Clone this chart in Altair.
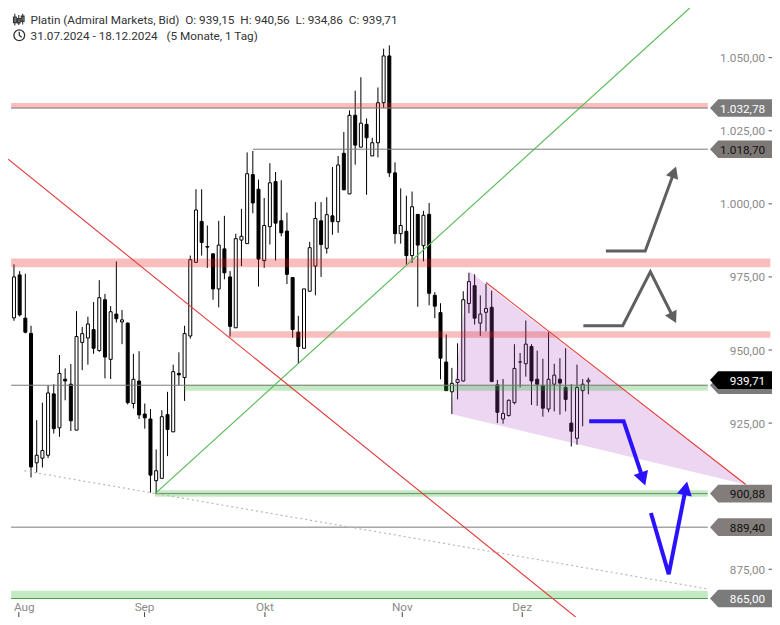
import math
import altair as alt
import pandas as pd

# ---------------- data ----------------
opens = [961, 975.7, 960.9, 955.7, 911.4, 913, 914, 935, 923.4, 940,
         938.3, 922.6, 952.6, 954.1, 957, 949.8, 967.2, 946.8, 962.3, 959.6,
         959.2, 931.7, 939.4, 928.1, 926.4, 905.3, 906.1, 927.9, 922, 942,
         940.6, 954.8, 980, 994, 985.4, 982.9, 970.9, 984.6, 975, 957.6,
         987.6, 986.4, 1010, 1005, 980.6, 992.2, 1007.6, 994.2, 990.7, 974.8,
         956.1, 950.6, 970.1, 978.7, 994.2, 984.8, 995.9, 993.9, 1017.3, 1003.4,
         1030.3, 1019.4, 1027.2, 1016.4, 1020.9, 1034.6, 1050.6, 1010.6, 989.8, 990.6,
         982.3, 996.4, 985.7, 996.4, 968.7, 962.8, 945.9, 935.7, 938.9, 939.4,
         965.9, 972, 959.2, 962.9, 964.6, 938.1, 926.4, 927.6, 932, 945.9,
         945.3, 951.2, 940, 937.9, 929.8, 938.3, 940, 937.2, 925, 919.8,
         936.1, 939.15]
highs = [979.3, 977, 976.1, 958.3, 926, 932, 937.9, 938.3, 948.3, 943.7,
         945.2, 963.3, 957.9, 961.4, 966.4, 973.9, 969.2, 965, 980.3, 963.7,
         959.4, 948.7, 949.6, 931.7, 929.8, 916, 929.4, 935.7, 945, 949.2,
         958.3, 982.3, 1005, 1005, 992.6, 983.1, 994.2, 995.9, 977, 989.8,
         998.3, 1017.6, 1018.1, 1008.3, 1002, 1013.9, 1010.9, 1008.1, 997, 974.8,
         961.7, 970.9, 987, 1000.6, 1000.6, 1002.3, 1012.6, 1016.4, 1024.6, 1032,
         1038.7, 1043.3, 1029.2, 1022.6, 1039.8, 1053.1, 1054.2, 1014.2, 1005.3, 1002.8,
         1004.2, 996.4, 997.6, 1000.3, 969.8, 966, 955.3, 943.9, 952.3, 970.1,
         976.4, 975.9, 968.7, 972.6, 970.3, 939.8, 940.1, 933.1, 952, 949,
         960.1, 952, 949.8, 947, 956.1, 945.3, 947.2, 950.6, 938.3, 945,
         940.1, 940.56]
lows = [960, 961.5, 955.7, 906.4, 908.1, 909.8, 913, 921.4, 920.3, 932.8,
        922.3, 922.6, 943.1, 945, 948.7, 949.4, 940.3, 940.1, 959.4, 952,
        931.4, 930, 926.4, 923.1, 901.2, 900.88, 906.1, 913.7, 922, 937.9,
        932.6, 953.9, 979.8, 982.3, 978.1, 967.2, 964.6, 974.2, 954.6, 957.6,
        978.7, 986.4, 996.8, 971.7, 978.1, 986.1, 980.6, 988.9, 972.6, 954.2,
        945.3, 950.6, 970.1, 968.7, 975, 983, 989.4, 990.1, 1004.8, 1003.4,
        1013.4, 1019.4, 1003.1, 1016.4, 1015.9, 1032.8, 1009.2, 986.4, 986.4, 979.2,
        979.8, 964.8, 980.3, 965.3, 960.9, 940, 936.1, 928.1, 933.1, 939.2,
        962.6, 958.7, 954.8, 956.4, 939.2, 925, 924.8, 927.2, 931.4, 937.2,
        940.9, 931.2, 930.9, 927.2, 928.7, 929, 927.9, 929, 917, 917.6,
        923.9, 934.86]
closes = [975, 962, 956.1, 910, 914, 915.6, 935.3, 923.1, 942, 939.4,
          925.8, 954.6, 955.6, 958.9, 950.6, 967.9, 947.6, 963.1, 960.7, 960.3,
          932, 940, 927.8, 926.8, 907.2, 908.7, 927.2, 922.8, 942.6, 941.5,
          955.6, 980.9, 997.9, 986.8, 985.2, 970.9, 985.9, 976.4, 958.1, 988.1,
          988.9, 1010.3, 1000.3, 981.1, 992.6, 1007.2, 993.4, 990.1, 975.9, 957,
          951.2, 970.9, 985, 995, 986.1, 996.3, 993.9, 1013.3, 1004.8, 1030.3,
          1020.1, 1027.6, 1022.6, 1020.9, 1034.6, 1050.6, 1010.6, 989.8, 992.6, 982.3,
          999, 985.9, 996.1, 969.4, 965, 947.2, 936.1, 938.6, 939.9, 967.2,
          973.4, 960.9, 962.3, 964.2, 939.2, 928.7, 928.3, 932.8, 943.7, 945.9,
          952, 939.4, 938.3, 930.1, 940, 941.4, 938.7, 933.1, 922.2, 937.2,
          938.3, 939.71]

month_pos = [0.85, 22.96, 44.13, 68.28, 89.37]
month_names = ["Aug", "Sep", "Okt", "Nov", "Dez"]
# 900,00 is hidden behind the 900,88 marker in the reference
price_ticks = [875, 925, 950, 975, 1000, 1025, 1050]

# zones (index start/end, value low/high)
pink_x0 = [-0.5, -0.5, 37.79]
pink_x1 = [122.0, 133.0, 133.0]
pink_lo = [1032.67, 978.33, 954.2]
pink_hi = [1034.5, 981.33, 956.4]

green_x0 = [29.87, 24.77, -0.5]
green_x1 = [122.0, 122.0, 122.0]
green_lo = [936.1, 899.8, 865.0]
green_hi = [938.1, 902.0, 867.67]

level_v = [1032.78, 1018.70, 937.95, 900.88, 889.40, 865.0]
level_x0 = [-0.5, 41.99, -0.5, 24.77, -0.5, -0.5]
level_x1 = [122.0, 122.0, 122.0, 122.0, 122.0, 122.0]
level_col = ["#7a7a7a", "#7a7a7a", "#7a7a7a", "#6a8f6a", "#7a7a7a", "#4f9a4f"]

lab_v = [1032.78, 1018.70, 937.95, 939.71, 900.88, 889.40, 865.00]
lab_text = ["1.032,78", "1.018,70", "", "939,71", "900,88", "889,40", "865,00"]
lab_fill = ["#7b7b7b", "#7e7976", "#7b7b7b", "#000000", "#827d7a", "#827d7a", "#7b7b7b"]
lab_tcol = ["#ffffff", "#111111", "#ffffff", "#ffffff", "#111111", "#111111", "#ffffff"]

# trend lines (index, value)
green_tl_i = [24.82, 118.82]
green_tl_v = [900.88, 1067.0]
red1_i = [-1.02, 101.8]
red1_v = [1015.27, 853.9]
red2_i = [83.0, 128.68]
red2_v = [973.1, 904.0]
dot_i = [1.82, 122.2]
dot_v = [908.67, 868.2]
tri_i = [76.88, 80.01, 128.68]   # C, A, B
tri_v = [928.1, 977.0, 904.0]

gray_arrows = [
    ([104.08, 111.0, 116.43], [983.9, 983.9, 1012.77]),
    ([100.12, 107.04, 111.9, 116.43], [958.33, 958.33, 976.77, 959.23]),
]
blue_arrows = [
    ([101.14, 107.2, 111.0], [925.67, 925.67, 903.67]),
    ([112.0, 115.13, 118.36], [894.23, 873.33, 905.0]),
]

header1 = "Platin (Admiral Markets, Bid)\u00a0\u00a0O: 939,15\u00a0\u00a0H: 940,56\u00a0\u00a0L: 934,86\u00a0\u00a0C: 939,71"
header2 = "31.07.2024 - 18.12.2024\u00a0\u00a0\u00a0(5 Monate, 1 Tag)"

# ---------------- layout ----------------
W, H = 764, 609
SX, SY = W / 780, H / 625
X0, X1 = -0.170, 132.41
V_BOT, V_TOP = 858.667, 1067.0
FONT = "Roboto"

xs = alt.Scale(domain=[X0, X1], nice=False, zero=False)
ys = alt.Scale(domain=[V_BOT, V_TOP], nice=False, zero=False)


def to_px(i, v):
    return ((i - X0) / (X1 - X0) * W, (V_TOP - v) / (V_TOP - V_BOT) * H)


def to_data(px, py):
    return (X0 + px / W * (X1 - X0), V_TOP - py / H * (V_TOP - V_BOT))


def X(field):
    return alt.X(field, scale=xs, axis=None)


def Y(field):
    return alt.Y(field, scale=ys, axis=None)


def de_num(v):
    s = f"{v:,.2f}"
    return s.replace(",", "X").replace(".", ",").replace("X", ".")


n = len(opens)
df = pd.DataFrame({"i": list(range(n)), "o": opens, "h": highs, "l": lows, "c": closes})
df["top"] = df[["o", "c"]].max(axis=1)
df["bot"] = df[["o", "c"]].min(axis=1)
df["bf"] = ["#ffffff" if c >= o else "#000000" for o, c in zip(opens, closes)]

wicks = alt.Chart(df).mark_rule(color="black", strokeWidth=1).encode(
    x=X("i:Q"), y=Y("l:Q"), y2="h:Q")
bodies = alt.Chart(df).mark_bar(size=3, stroke="black", strokeWidth=1).encode(
    x=X("i:Q"), y=Y("top:Q"), y2="bot:Q", fill=alt.Fill("bf:N", scale=None))

# y-axis labels and ticks (right side)
yt_df = pd.DataFrame({"v": price_ticks, "t": [de_num(v) for v in price_ticks]})
y_labels = alt.Chart(yt_df).mark_text(align="right", baseline="middle", font=FONT,
                                      fontSize=12 * SX, color="#8a8a8a", dy=0.5).encode(
    x=alt.value(773 * SX), y=Y("v:Q"), text="t:N")
y_ticks = alt.Chart(yt_df).mark_rule(color="#555555", strokeWidth=1).encode(
    x=alt.value(776.5 * SX), x2=alt.value(W), y=Y("v:Q"))

# x-axis month labels and ticks (bottom)
mt_df = pd.DataFrame({"p": month_pos, "t": month_names})
m_first = alt.Chart(mt_df.iloc[:1]).mark_text(align="left", baseline="alphabetic", font=FONT,
                                              fontSize=12 * SX, color="#8a8a8a", dx=-5 * SX).encode(
    x=X("p:Q"), y=alt.value(619 * SY), text="t:N")
m_rest = alt.Chart(mt_df.iloc[1:]).mark_text(align="center", baseline="alphabetic", font=FONT,
                                             fontSize=12 * SX, color="#8a8a8a").encode(
    x=X("p:Q"), y=alt.value(619 * SY), text="t:N")
m_ticks = alt.Chart(mt_df).mark_rule(color="#444444", strokeWidth=1).encode(
    x=X("p:Q"), y=alt.value(620 * SY), y2=alt.value(H))

# triangle (C -> A -> B) as an area: lower edge C->B
ci, ai, bi = tri_i
cv, av, bv = tri_v
low_at_a = cv + (bv - cv) * (ai - ci) / (bi - ci)
tri_df = pd.DataFrame({"i": tri_i, "vt": tri_v, "vb": [cv, low_at_a, bv]})
triangle = alt.Chart(tri_df).mark_area(color="#a845c0", opacity=0.22).encode(
    x=X("i:Q"), y=Y("vt:Q"), y2="vb:Q")

pink_df = pd.DataFrame({"x0": pink_x0, "x1": pink_x1, "lo": pink_lo, "hi": pink_hi})
pink = alt.Chart(pink_df).mark_rect(color="#e62020", opacity=0.29, clip=True).encode(
    x=X("x0:Q"), x2="x1:Q", y=Y("lo:Q"), y2="hi:Q")
green_df = pd.DataFrame({"x0": green_x0, "x1": green_x1, "lo": green_lo, "hi": green_hi})
green = alt.Chart(green_df).mark_rect(color="#22b322", opacity=0.27, clip=True).encode(
    x=X("x0:Q"), x2="x1:Q", y=Y("lo:Q"), y2="hi:Q")

lvl_df = pd.DataFrame({"x0": level_x0, "x1": level_x1, "v": level_v, "col": level_col})
levels = alt.Chart(lvl_df).mark_rule(strokeWidth=1, clip=True).encode(
    x=X("x0:Q"), x2="x1:Q", y=Y("v:Q"), color=alt.Color("col:N", scale=None))

dot_df = pd.DataFrame({"i": dot_i, "v": dot_v})
dotted = alt.Chart(dot_df).mark_line(color="#b8b8b8", strokeDash=[2, 3], strokeWidth=1.2, clip=True).encode(
    x=X("i:Q"), y=Y("v:Q"))

gtl_df = pd.DataFrame({"i": green_tl_i, "v": green_tl_v})
green_tl = alt.Chart(gtl_df).mark_line(color="#55b855", strokeWidth=1.1, clip=True).encode(
    x=X("i:Q"), y=Y("v:Q"))

red_df = pd.DataFrame({"i": red1_i + red2_i, "v": red1_v + red2_v, "id": [1, 1, 2, 2]})
red_tl = alt.Chart(red_df).mark_line(color="#e23a3a", strokeWidth=1.1, clip=True).encode(
    x=X("i:Q"), y=Y("v:Q"), detail="id:N")

HEAD = "M0,0L-0.55,1L0.55,1Z"


def arrow_frames(arrows, head_len):
    rows, heads = [], []
    for a, (ii, vv) in enumerate(arrows):
        pts = [to_px(i, v) for i, v in zip(ii, vv)]
        (x1, y1), (x2, y2) = pts[-2], pts[-1]
        dx, dy = x2 - x1, y2 - y1
        L = math.hypot(dx, dy)
        ang = math.degrees(math.atan2(dx, -dy)) % 360
        ex, ey = x2 - dx / L * head_len * 0.7, y2 - dy / L * head_len * 0.7
        ei, ev = to_data(ex, ey)
        line_i = list(ii[:-1]) + [ei]
        line_v = list(vv[:-1]) + [ev]
        for k, (i, v) in enumerate(zip(line_i, line_v)):
            rows.append({"id": a, "k": k, "i": i, "v": v})
        heads.append({"i": ii[-1], "v": vv[-1], "ang": ang})
    return pd.DataFrame(rows), pd.DataFrame(heads)


g_r = 12 * SX
b_r = 14 * SX
g_lines, g_heads = arrow_frames(gray_arrows, g_r)
b_lines, b_heads = arrow_frames(blue_arrows, b_r)

gray_lines = alt.Chart(g_lines).mark_line(color="#5f5f5f", strokeWidth=3, strokeJoin="miter", strokeCap="butt").encode(
    x=X("i:Q"), y=Y("v:Q"), detail="id:N", order="k:Q")
gray_heads = alt.Chart(g_heads).mark_point(shape=HEAD, filled=True, opacity=1, color="#5f5f5f",
                                           size=(2 * g_r) ** 2, strokeWidth=0).encode(
    x=X("i:Q"), y=Y("v:Q"), angle=alt.Angle("ang:Q", scale=None))
blue_lines = alt.Chart(b_lines).mark_line(color="#2a12ff", strokeWidth=4, strokeJoin="miter", strokeCap="butt").encode(
    x=X("i:Q"), y=Y("v:Q"), detail="id:N", order="k:Q")
blue_heads = alt.Chart(b_heads).mark_point(shape=HEAD, filled=True, opacity=1, color="#2a12ff",
                                           size=(2 * b_r) ** 2, strokeWidth=0).encode(
    x=X("i:Q"), y=Y("v:Q"), angle=alt.Angle("ang:Q", scale=None))

LABEL = "M-1,0L-0.736,-0.284L1,-0.284L1,0.284L-0.736,0.284Z"
lab_r = 31.65 * SX
lab_df = pd.DataFrame({"v": lab_v, "t": lab_text, "fc": lab_fill, "tc": lab_tcol, "k": range(len(lab_v))})
lab_boxes = alt.Chart(lab_df).mark_point(shape=LABEL, filled=True, opacity=1, size=(2 * lab_r) ** 2,
                                         strokeWidth=0).encode(
    x=alt.value(748.35 * SX), y=Y("v:Q"), color=alt.Color("fc:N", scale=None), order="k:Q")
lab_texts = alt.Chart(lab_df).mark_text(align="right", baseline="middle", font=FONT,
                                        fontSize=12 * SX, dy=0.5).encode(
    x=alt.value(773 * SX), y=Y("v:Q"), text="t:N", color=alt.Color("tc:N", scale=None))

# header
hdr1 = alt.Chart(pd.DataFrame({"t": [header1]})).mark_text(
    align="left", baseline="alphabetic", font=FONT, fontSize=12 * SX, color="#333333").encode(
    x=alt.value(23 * SX), y=alt.value(16.8 * SY), text="t:N")
hdr2 = alt.Chart(pd.DataFrame({"t": [header2]})).mark_text(
    align="left", baseline="alphabetic", font=FONT, fontSize=12 * SX, color="#333333").encode(
    x=alt.value(23 * SX), y=alt.value(32.7 * SY), text="t:N")

CANDLE_ICON = ("M-0.67,-1V1M-0.9,-0.45H-0.43V0.5H-0.9Z"
               "M0,-0.8V0.9M-0.23,-0.2H0.23V0.55H-0.23Z"
               "M0.67,-1V0.8M0.43,-0.6H0.9V0.3H0.43Z")
icon1 = alt.Chart(pd.DataFrame({"a": [0]})).mark_point(shape=CANDLE_ICON, filled=False, size=(12 * SX) ** 2,
                                                       color="#333333", strokeWidth=1.1, opacity=1).encode(
    x=alt.value(11 * SX), y=alt.value(12 * SY))
clock = alt.Chart(pd.DataFrame({"a": [0]})).mark_point(shape="circle", filled=False, size=(11 * SX) ** 2,
                                                       color="#333333", strokeWidth=1.3, opacity=1).encode(
    x=alt.value(11.5 * SX), y=alt.value(28 * SY))
hands = alt.Chart(pd.DataFrame({"a": [0]})).mark_point(shape="M0,-0.65L0,0L0.45,0.35", filled=False,
                                                       size=(11 * SX) ** 2, color="#333333",
                                                       strokeWidth=1.3, opacity=1).encode(
    x=alt.value(11.5 * SX), y=alt.value(28 * SY))

chart = alt.layer(
    y_labels, y_ticks, m_first, m_rest, m_ticks,
    wicks, bodies, triangle, pink, green, levels, dotted, green_tl, red_tl,
    gray_lines, gray_heads, blue_lines, blue_heads, lab_boxes, lab_texts,
    hdr1, hdr2, icon1, clock, hands
).properties(
    width=W, height=H, autosize=alt.AutoSizeParams(type="none"), padding=0
).configure_view(stroke=None)

chart.save("out.html", embed_options={"renderer": "svg", "actions": False})
